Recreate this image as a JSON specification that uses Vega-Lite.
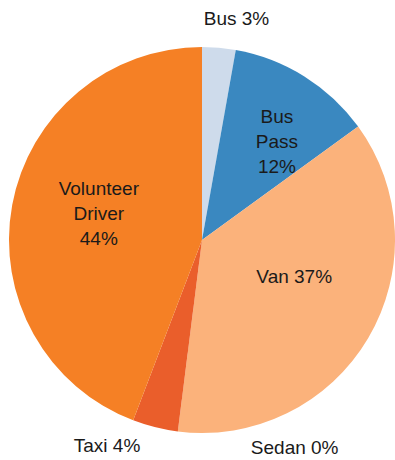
{
  "$schema": "https://vega.github.io/schema/vega-lite/v6.json",
  "width": 384,
  "height": 440,
  "padding": {"left": 10, "top": 20, "right": 1, "bottom": 0},
  "autosize": {"type": "none"},
  "background": "white",
  "view": {"stroke": null},
  "data": {
    "values": [
      {"category": "Bus", "value": 2.8, "label": "Bus 3%"},
      {"category": "Bus Pass", "value": 12.2, "label": "Bus\nPass\n12%"},
      {"category": "Van", "value": 37.0, "label": "Van 37%"},
      {"category": "Sedan", "value": 0, "label": "Sedan 0%"},
      {"category": "Taxi", "value": 3.8, "label": "Taxi 4%"},
      {"category": "Volunteer Driver", "value": 44.2, "label": "Volunteer\nDriver\n44%"}
    ]
  },
  "transform": [{"window": [{"op": "row_number", "as": "idx"}]}],
  "encoding": {
    "theta": {"field": "value", "type": "quantitative", "stack": true},
    "order": {"field": "idx", "type": "quantitative"}
  },
  "layer": [
    {
      "mark": {"type": "arc", "outerRadius": 193},
      "encoding": {
        "color": {
          "field": "category",
          "type": "nominal",
          "legend": null,
          "scale": {
            "domain": ["Bus", "Bus Pass", "Van", "Sedan", "Taxi", "Volunteer Driver"],
            "range": ["#cedbeb", "#3a88c0", "#fbb27b", "#fdd0a2", "#ea5e2b", "#f58025"]
          }
        }
      }
    },
    {
      "mark": {"type": "text", "radius": 222, "dx": 15, "font": "Liberation Sans", "fontSize": 19, "color": "#1a1a1a", "lineBreak": "\n", "lineHeight": 25, "baseline": "middle"},
      "encoding": {"text": {"condition": {"test": "datum.category === 'Bus'", "field": "label"}, "value": ""}}
    },
    {
      "mark": {"type": "text", "radius": 145, "dx": -2, "font": "Liberation Sans", "fontSize": 19, "color": "#1a1a1a", "lineBreak": "\n", "lineHeight": 25, "baseline": "middle"},
      "encoding": {"text": {"condition": {"test": "datum.category === 'Bus Pass'", "field": "label"}, "value": ""}}
    },
    {
      "mark": {"type": "text", "radius": 99, "dx": 7, "dy": -13, "font": "Liberation Sans", "fontSize": 19, "color": "#1a1a1a", "lineBreak": "\n", "lineHeight": 25, "baseline": "middle"},
      "encoding": {"text": {"condition": {"test": "datum.category === 'Van'", "field": "label"}, "value": ""}}
    },
    {
      "mark": {"type": "text", "radius": 210, "dx": 119, "font": "Liberation Sans", "fontSize": 19, "color": "#1a1a1a", "lineBreak": "\n", "lineHeight": 25, "baseline": "middle"},
      "encoding": {"text": {"condition": {"test": "datum.category === 'Sedan'", "field": "label"}, "value": ""}}
    },
    {
      "mark": {"type": "text", "radius": 210, "dx": -44, "dy": 2, "font": "Liberation Sans", "fontSize": 19, "color": "#1a1a1a", "lineBreak": "\n", "lineHeight": 25, "baseline": "middle"},
      "encoding": {"text": {"condition": {"test": "datum.category === 'Taxi'", "field": "label"}, "value": ""}}
    },
    {
      "mark": {"type": "text", "radius": 110, "dx": 5, "dy": -31, "font": "Liberation Sans", "fontSize": 19, "color": "#1a1a1a", "lineBreak": "\n", "lineHeight": 25, "baseline": "middle"},
      "encoding": {"text": {"condition": {"test": "datum.category === 'Volunteer Driver'", "field": "label"}, "value": ""}}
    }
  ]
}
